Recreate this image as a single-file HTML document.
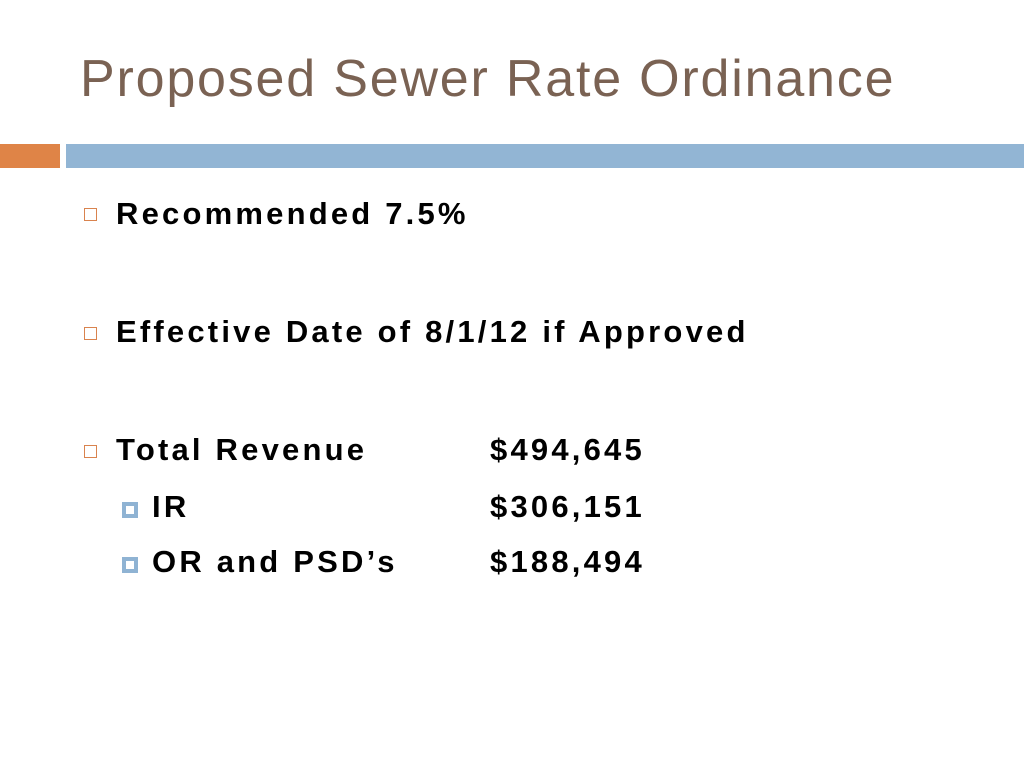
<!DOCTYPE html>
<html><head><meta charset="utf-8"><style>
body{margin:0;width:1024px;height:768px;background:#fff;position:relative;overflow:hidden;font-family:"Liberation Sans",sans-serif}
.a{position:absolute;white-space:nowrap}
.t{font-size:31px;font-weight:bold;color:#000;line-height:1;letter-spacing:3.2px}
.b{position:absolute;width:11px;height:11px;border:1.5px solid #d9834e;background:#fff}
.s{position:absolute;width:8px;height:8px;border:4px solid #8fb3d3;background:#fff}
</style></head><body>
<div class="a" style="left:80px;top:53px;font-size:52px;letter-spacing:1.8px;color:#7a6253;line-height:1">Proposed Sewer Rate Ordinance</div>
<div class="a" style="left:0;top:144px;width:60px;height:24px;background:#df8447"></div>
<div class="a" style="left:66px;top:144px;width:958px;height:24px;background:#92b5d4"></div>

<div class="b" style="left:84px;top:208px"></div>
<div class="a t" style="left:116px;top:198px">Recommended 7.5%</div>

<div class="b" style="left:84px;top:327px"></div>
<div class="a t" style="left:116px;top:316px">Effective Date of 8/1/12 if Approved</div>

<div class="b" style="left:84px;top:445px"></div>
<div class="a t" style="left:116px;top:434px">Total Revenue</div>
<div class="a t" style="left:490px;top:434px">$494,645</div>

<div class="s" style="left:122px;top:502px"></div>
<div class="a t" style="left:152px;top:491px">IR</div>
<div class="a t" style="left:490px;top:491px">$306,151</div>

<div class="s" style="left:122px;top:557px"></div>
<div class="a t" style="left:152px;top:546px">OR and PSD’s</div>
<div class="a t" style="left:490px;top:546px">$188,494</div>
</body></html>
